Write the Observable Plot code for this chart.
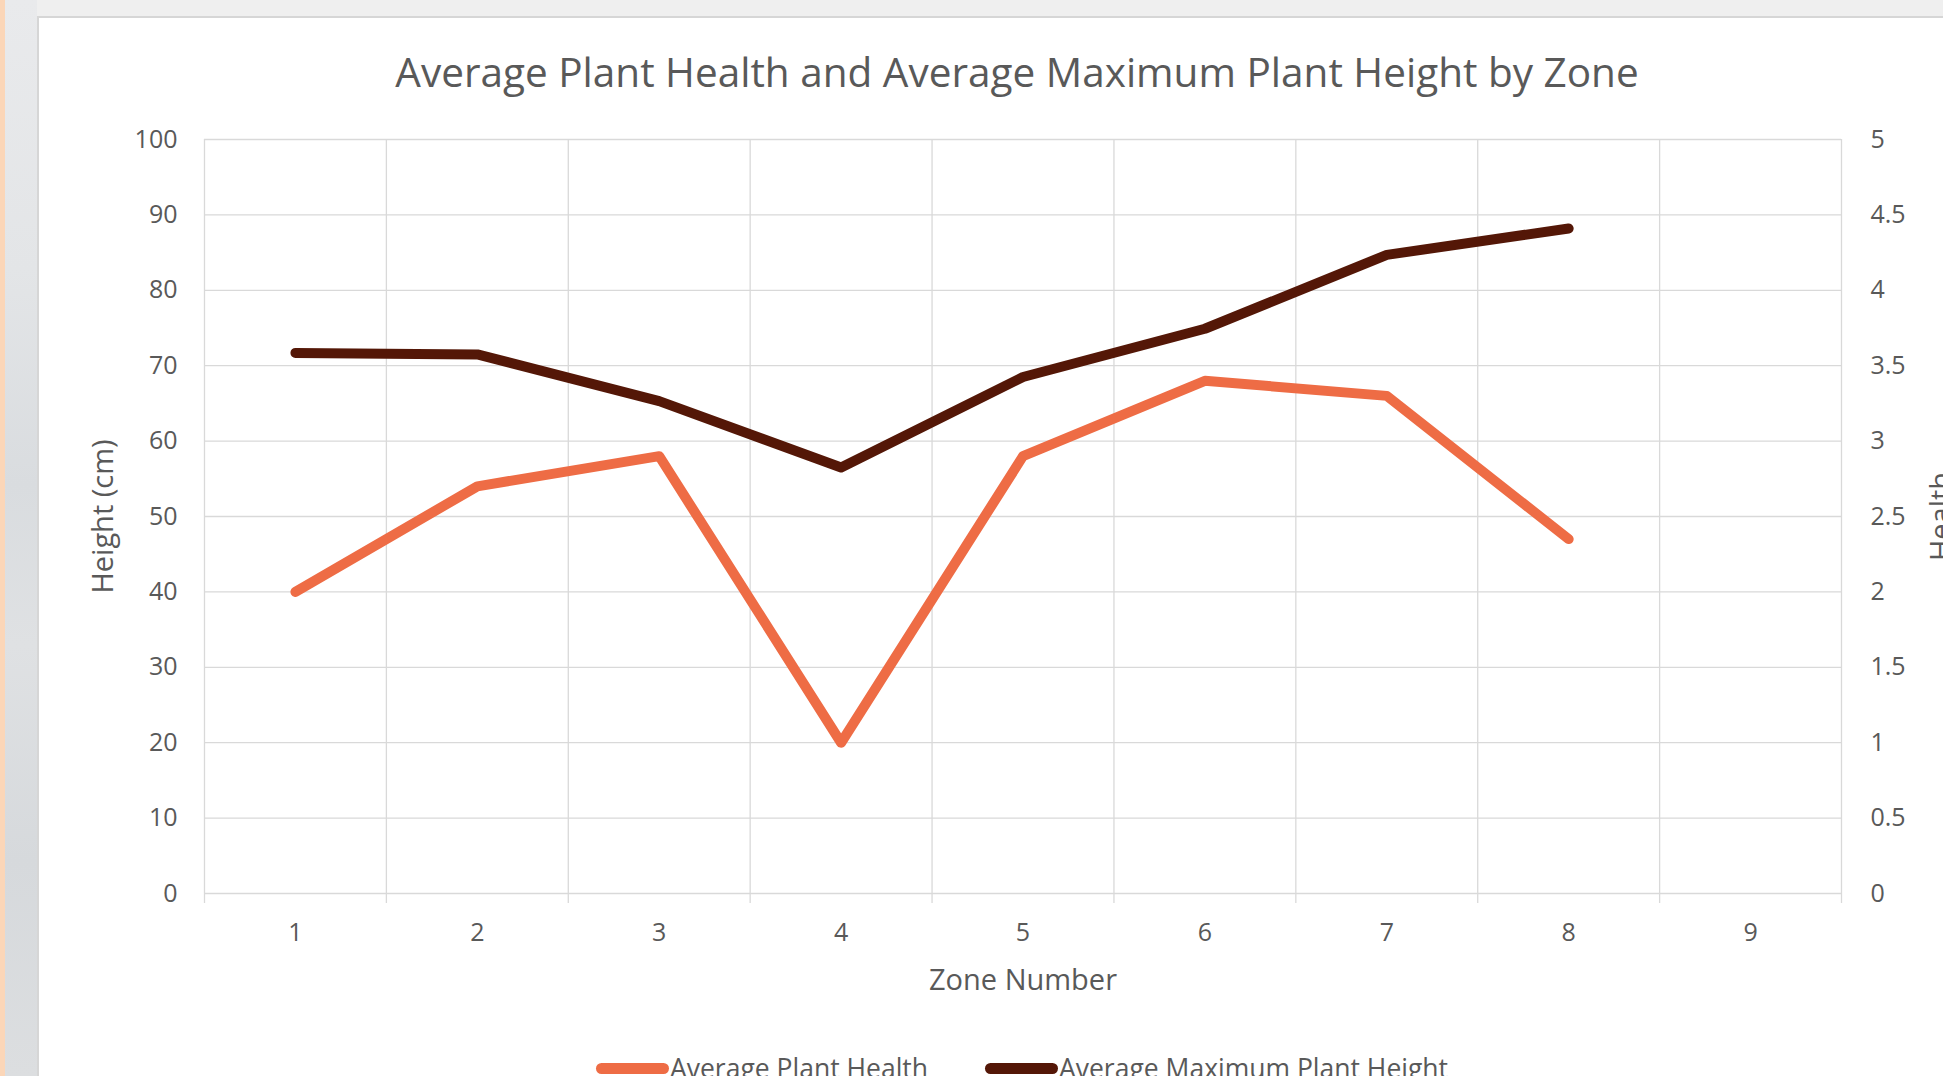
<!DOCTYPE html>
<html>
<head>
<meta charset="utf-8">
<script src="https://cdn.jsdelivr.net/npm/d3@7"></script>
<script src="https://cdn.jsdelivr.net/npm/@observablehq/plot@0.6"></script>
<style>
  html, body { margin: 0; padding: 0; }
  body { width: 1943px; height: 1076px; overflow: hidden; position: relative; background: #efefef; font-family: "Open Sans", sans-serif; }
  #strip { position: absolute; left: 0; top: 0; width: 5px; height: 1076px; background: #fbd6b8; }
  #grey { position: absolute; left: 5px; top: 0; width: 32px; height: 1076px;
    background: linear-gradient(180deg, #e9eaec 0%, #e3e5e7 25%, #d9dcdf 45%, #dfe1e3 60%, #d6d9dc 80%, #dcdee0 100%); }
  #panel { position: absolute; left: 37px; top: 16px; width: 1920px; height: 1080px; background: #fff;
    border-left: 2px solid #d6d6d6; border-top: 2px solid #d6d6d6; }
  #title { position: absolute; left: 0; width: 2034px; top: 44px; text-align: center; font-size: 40.5px; color: #595959; white-space: nowrap; }
  #chart { position: absolute; left: 0; top: 110px; }
  #legend { position: absolute; top: 1048px; left: 0; width: 1943px; height: 40px; color: #595959; font-size: 26.5px; white-space: nowrap; }
  .item { position: absolute; top: 0; height: 40px; display: flex; align-items: center; }
  .sw { width: 73px; height: 11px; border-radius: 6px; margin-right: 1px; }
</style>
</head>
<body>
<div id="strip"></div>
<div id="grey"></div>
<div id="panel"></div>
<div id="title">Average Plant Health and Average Maximum Plant Height by Zone</div>
<div id="chart"></div>
<div id="legend"></div>
<script>
// ---- data ----
const zones = [1, 2, 3, 4, 5, 6, 7, 8];
const avgHealth = [2.0, 2.7, 2.9, 1.0, 2.9, 3.4, 3.3, 2.35];
const avgMaxHeight = [71.7, 71.5, 65.3, 56.5, 68.5, 74.9, 84.7, 88.2];
const zoneTicks = [1, 2, 3, 4, 5, 6, 7, 8, 9];
const heightTicks = [0, 10, 20, 30, 40, 50, 60, 70, 80, 90, 100];
const healthTicks = [0, 0.5, 1, 1.5, 2, 2.5, 3, 3.5, 4, 4.5, 5];
const seriesNames = ["Average Plant Health", "Average Maximum Plant Height"];
const seriesColors = ["#ee6c45", "#541707"];

// right axis (0–5) shares the left axis (0–100)
const healthMax = 5, heightMax = 100;
const toHeight = h => h * heightMax / healthMax;

const healthRows = zones.map((z, i) => ({zone: z, v: toHeight(avgHealth[i])}));
const heightRows = zones.map((z, i) => ({zone: z, v: avgMaxHeight[i]}));
const boundaries = zoneTicks.map(z => z - 0.5).concat([zoneTicks[zoneTicks.length - 1] + 0.5]);

const gridColor = "#d9d9d9";
const textColor = "#595959";

const plot = Plot.plot({
  width: 1943,
  height: 900,
  marginLeft: 204,
  marginRight: 102,
  marginTop: 29,
  marginBottom: 117,
  style: {fontFamily: "Open Sans, sans-serif", fontSize: "25px", color: textColor, background: "transparent", overflow: "visible"},
  x: {domain: [0.5, 9.5]},
  y: {domain: [0, heightMax]},
  marks: [
    Plot.ruleY(heightTicks, {stroke: gridColor, strokeWidth: 1.3}),
    Plot.ruleX(boundaries, {y1: 0, y2: heightMax, stroke: gridColor, strokeWidth: 1.3}),
    Plot.axisX(boundaries, {tickSize: 10, stroke: gridColor, strokeWidth: 1.3, text: null, label: null}),
    Plot.axisX(zoneTicks, {tickSize: 0, tickPadding: 30, fill: textColor, label: null, fontSize: 25, tickFormat: d => String(d)}),
    Plot.axisY(heightTicks, {anchor: "left", tickSize: 0, tickPadding: 27, fill: textColor, label: null, fontSize: 25}),
    Plot.axisY(healthTicks.map(toHeight), {anchor: "right", tickSize: 0, tickPadding: 29, fill: textColor, label: null, fontSize: 25,
      tickFormat: d => String(d * healthMax / heightMax)}),
    Plot.text(["Height (cm)"], {frameAnchor: "left", textAnchor: "middle", dx: -101, rotate: -90, fill: textColor, fontSize: 29}),
    Plot.text(["Health"], {frameAnchor: "right", textAnchor: "middle", dx: 100, rotate: -90, fill: textColor, fontSize: 29}),
    Plot.text(["Zone Number"], {frameAnchor: "bottom", dy: 96, fill: textColor, fontSize: 29}),
    Plot.line(healthRows, {x: "zone", y: "v", stroke: seriesColors[0], strokeWidth: 10, strokeLinecap: "round", strokeLinejoin: "round"}),
    Plot.line(heightRows, {x: "zone", y: "v", stroke: seriesColors[1], strokeWidth: 10, strokeLinecap: "round", strokeLinejoin: "round"})
  ]
});
document.getElementById("chart").appendChild(plot);

// legend
const legend = document.getElementById("legend");
const lefts = [596, 985];
seriesNames.forEach((name, i) => {
  const item = document.createElement("div");
  item.className = "item";
  item.style.left = lefts[i] + "px";
  const sw = document.createElement("div");
  sw.className = "sw";
  sw.style.background = seriesColors[i];
  const t = document.createElement("span");
  t.textContent = name;
  item.appendChild(sw);
  item.appendChild(t);
  legend.appendChild(item);
});
</script>
</body>
</html>
